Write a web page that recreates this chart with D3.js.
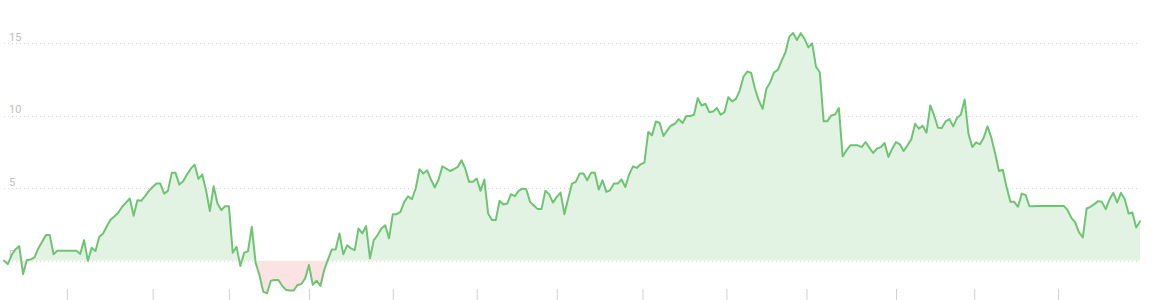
<!DOCTYPE html>
<html>
<head>
<meta charset="utf-8">
<script src="https://cdn.jsdelivr.net/npm/d3@7"></script>
<style>
  html, body { margin: 0; padding: 0; background: #fff; }
  svg { display: block; }
</style>
</head>
<body>
<svg id="chart" width="1166" height="300"></svg>
<script>
// ---- data (one value per trading day) ----
const values = [
  0.0, -0.23, 0.39, 0.78, 1.01, -0.92, 0.05, 0.09, 0.23, 0.85,
  1.31, 1.77, 1.77, 0.44, 0.69, 0.69, 0.69, 0.69, 0.69, 0.69,
  0.46, 1.42, 0.0, 0.89, 0.67, 1.65, 1.88, 2.39, 2.84, 3.07,
  3.33, 3.72, 4.01, 4.29, 3.10, 4.17, 4.13, 4.45, 4.82, 5.09,
  5.32, 5.32, 4.63, 4.82, 6.06, 6.06, 5.25, 5.48, 5.94, 6.35,
  6.63, 5.64,
  5.94, 4.86, 3.42, 5.14, 3.94, 3.49, 3.76, 3.76, 0.55, 0.96,
  -0.37, 0.55, 0.64, 2.34, -0.14, -0.99, -2.13, -2.25, -1.38, -1.33,
  -1.33, -1.74, -2.02, -2.06, -2.06, -1.67, -1.61, -1.22, -0.30, -1.67,
  -1.38, -1.74, -0.64, 0.09, 0.78, 0.78, 1.88, 0.44, 1.06, 0.85,
  0.73, 2.22, 1.88, 2.39, 0.16, 1.42, 1.77, 2.22, 2.45, 1.54,
  3.21, 3.21, 3.37,
  4.06, 4.45, 4.24, 4.98, 6.31, 6.01, 6.24, 5.60, 5.05, 5.60,
  6.51, 6.35, 6.19, 6.31, 6.47, 6.93, 6.35, 5.44, 5.44, 5.67,
  4.82, 5.60, 3.26, 2.80, 2.80, 4.13, 3.88, 3.94, 4.59, 4.45,
  4.82, 4.98, 4.93, 4.06, 3.81, 3.56, 3.56, 4.82, 4.59, 4.01,
  4.40, 4.70, 3.21, 4.29, 5.32, 5.44, 6.01, 6.01, 5.55, 6.06,
  6.06, 4.91,
  5.55, 4.75, 4.86, 5.32, 5.32, 5.60, 5.09, 5.96, 6.51, 6.40,
  6.65, 6.77, 8.88, 8.65, 9.61, 9.50, 8.60, 8.99, 9.33, 9.45,
  9.77, 9.50, 9.98, 9.98, 10.07, 11.22, 10.71, 10.83, 10.25, 10.30,
  10.53, 10.07, 10.25, 11.28, 10.99, 11.17, 11.74, 12.71, 13.05, 12.96,
  11.86, 11.06, 10.48, 11.86, 12.32, 13.00, 13.17, 13.81, 14.38, 15.46,
  15.71, 15.23, 15.70,
  15.30, 14.72, 15.0, 13.39, 13.0, 9.63, 9.63, 10.02, 10.09, 10.53,
  7.20, 7.61, 7.96, 7.96, 7.96, 7.84, 8.19, 7.80, 7.43, 7.73,
  7.84, 8.12, 7.16, 7.73, 8.19, 8.03, 7.57, 7.96, 8.37, 9.45,
  9.11, 9.31, 8.83, 10.71, 10.02, 9.17, 9.15, 9.61, 9.77, 9.27,
  9.86, 10.07, 11.12, 8.76, 7.84, 8.17, 8.03, 8.49, 9.27, 8.49,
  7.39, 6.19,
  6.28, 5.09, 4.06, 4.06, 3.72, 4.63, 4.52, 3.76, 3.76,
  3.78, 3.78, 3.78, 3.78, 3.78, 3.78, 3.78, 3.78,
  3.49, 2.96, 2.64, 1.95, 1.61, 3.60, 3.72, 3.90, 4.11, 4.06,
  3.56, 4.22, 4.68, 4.01, 4.68, 4.24, 3.26, 3.33, 2.29, 2.71
];

const yTicks = [0, 5, 10, 15];
const yTickLabels = ["0", "5", "10", "15"];

// month starts, as positions in the trading-day index
const monthTicks = [16.5, 39, 59, 80, 102, 124, 145, 167.5, 189.5, 210.5, 234, 254.5, 276.5];
const monthLabels = ["Jan", "Feb", "Mar", "Apr", "May", "Jun", "Jul", "Aug", "Sep", "Oct", "Nov", "Dec", "Jan"];

// ---- drawing ----
const W = 1166, H = 300;
const svg = d3.select("#chart");

const x = d3.scaleLinear().domain([0, values.length - 1]).range([4, 1140]);
const y = d3.scaleLinear().domain([0, 15]).range([260.7, 43.3]);

const y0 = y(0);

// clip paths for positive / negative fill
const defs = svg.append("defs");
defs.append("clipPath").attr("id", "clipPos")
  .append("rect").attr("x", 0).attr("y", 0).attr("width", W).attr("height", y0);
defs.append("clipPath").attr("id", "clipNeg")
  .append("rect").attr("x", 0).attr("y", y0).attr("width", W).attr("height", H - y0);

// grid lines
svg.append("g").selectAll("line")
  .data(yTicks)
  .join("line")
  .attr("x1", 4).attr("x2", 1137)
  .attr("y1", d => Math.round(y(d)) + 0.5)
  .attr("y2", d => Math.round(y(d)) + 0.5)
  .attr("stroke", "#d6d6d6")
  .attr("stroke-width", 1)
  .attr("stroke-dasharray", "1,3");

// y labels
svg.append("g").selectAll("text")
  .data(yTicks)
  .join("text")
  .attr("x", 9)
  .attr("y", d => y(d) - 2.5)
  .attr("fill", "#c0c0c0")
  .attr("font-family", "Roboto, 'Open Sans', sans-serif")
  .attr("font-size", 11)
  .text((d, i) => yTickLabels[i]);

// areas
const area = d3.area()
  .x((d, i) => x(i))
  .y0(y0)
  .y1(d => y(d));

svg.append("path")
  .datum(values)
  .attr("clip-path", "url(#clipPos)")
  .attr("fill", "#e3f3e3")
  .attr("d", area);

svg.append("path")
  .datum(values)
  .attr("clip-path", "url(#clipNeg)")
  .attr("fill", "#fce3e3")
  .attr("d", area);

// line
const line = d3.line()
  .x((d, i) => x(i))
  .y(d => y(d));

svg.append("path")
  .datum(values)
  .attr("fill", "none")
  .attr("stroke", "#6fc474")
  .attr("stroke-width", 2)
  .attr("stroke-linejoin", "round")
  .attr("stroke-linecap", "round")
  .attr("d", line);

// bottom month ticks (labels fall below the visible area)
const xAxis = d3.axisBottom(x)
  .tickValues(monthTicks)
  .tickSize(12)
  .tickFormat("");

const gx = svg.append("g")
  .attr("transform", "translate(0,289)")
  .call(xAxis);
gx.select(".domain").remove();
gx.selectAll(".tick line").attr("stroke", "#d0d0d0");
</script>
</body>
</html>
